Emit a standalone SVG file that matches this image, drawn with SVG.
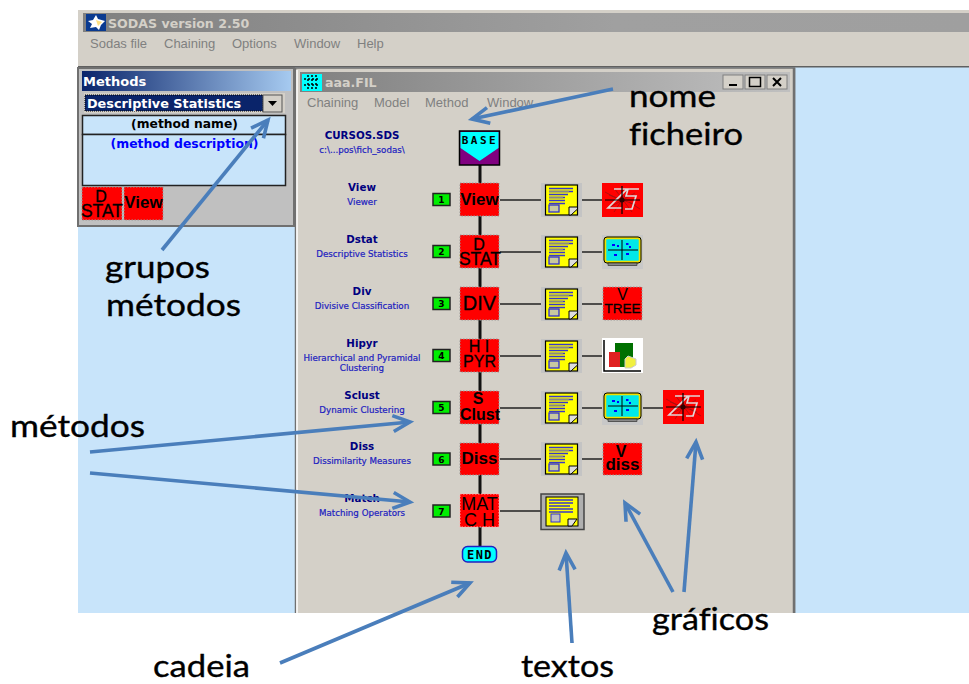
<svg xmlns="http://www.w3.org/2000/svg" xmlns:xlink="http://www.w3.org/1999/xlink" width="969" height="684" viewBox="0 0 969 684">
<style>
text{font-family:"Liberation Sans",Arial,sans-serif}
.menu{font-size:13px;fill:#808080}
.ttl{font-family:"DejaVu Sans",sans-serif;font-weight:bold;font-size:12.6px;fill:#d4d0c8}
.mn{font-family:"DejaVu Sans",sans-serif;font-weight:bold;font-size:10.3px;fill:#000080;text-anchor:middle}
.md{font-family:"DejaVu Sans",sans-serif;font-size:8.7px;fill:#2020c0;text-anchor:middle;stroke:#2020c0;stroke-width:.2}
.num{font-family:"DejaVu Sans",sans-serif;font-weight:bold;font-size:9px;fill:#000;text-anchor:middle}
.nb{fill:#00ee00;stroke:#222;stroke-width:1.5}
.red{fill:#ff0000;stroke:#999;stroke-width:1;stroke-dasharray:1.5 1.5}
.rt{font-size:16px;fill:#000;text-anchor:middle;stroke:#000;stroke-width:.3}
.rb{font-size:16px;font-weight:bold;fill:#000;text-anchor:middle}
.big{font-family:Lato,"Liberation Sans",sans-serif;font-size:31px;fill:#000;stroke:#000;stroke-width:.35;font-variant-ligatures:none}
.bl{stroke:#222;stroke-width:1.5;fill:none}
.vl{stroke:#111;stroke-width:3;fill:none}
.arr{stroke:#4a7ebb;stroke-width:3.6;fill:none;marker-end:url(#ah)}
.btn{fill:#d4d0c8;stroke:#808080;stroke-width:1}
</style>
<defs>
<linearGradient id="gm" x1="0" x2="1" y1="0" y2="0"><stop offset="0" stop-color="#808080"/><stop offset=".6" stop-color="#a0a0a0"/><stop offset="1" stop-color="#9f9f9f"/></linearGradient>
<linearGradient id="gc" x1="0" x2="1" y1="0" y2="0"><stop offset="0" stop-color="#808080"/><stop offset="1" stop-color="#c0c0c0"/></linearGradient>
<linearGradient id="gb" x1="0" x2="1" y1="0" y2="0"><stop offset="0" stop-color="#0a246a"/><stop offset="1" stop-color="#a6caf0"/></linearGradient>
<marker id="ah" markerUnits="userSpaceOnUse" markerWidth="30" markerHeight="30" refX="22" refY="15" orient="auto" overflow="visible">
<path d="M5,7 L22,15 L5,23" fill="none" stroke="#4a7ebb" stroke-width="3.6"/>
</marker>
<g id="doc">
<rect x="0" y="0" width="41" height="34" fill="#c4c4c4"/>
<rect x="4.500" y="2" width="32" height="30" fill="#ffff00" stroke="#000" stroke-width="1.200"/>
<path d="M8,5.500H32M8,8.500H32M8,11.500H27M8,14.500H24M8,17.500H24M8,20.500H24" stroke="#3838c8" stroke-width="1.300"/>
<path d="M8,8.500H28M8,14.500H22" stroke="#888" stroke-width="1.300"/>
<rect x="8" y="22" width="10" height="7" fill="#c8c8a0" stroke="#3030d0" stroke-width="1.300"/>
<path d="M28,32V24H36.500V26L30,32Z" fill="#ddd" stroke="#000"/>
</g>
<g id="zs">
<rect x="0" y="0" width="41" height="34" fill="#ff0000"/>
<path d="M7,12L34,22M8,24L33,10M12,5L30,29M28,5L12,29M3,9L14,15M27,19L38,26" stroke="#a01010" stroke-width=".8"/>
<path d="M12,6H25L6,25H20M37,6H26L24,13H34L30,26H23" fill="none" stroke="#e0d8d8" stroke-width="1.700"/>
<path d="M3,17H38M20,3V31" stroke="#000" stroke-width="1.200"/>
<circle cx="20" cy="17" r="2.500" fill="#300"/>
</g>
<g id="mon">
<rect x="0" y="0" width="41" height="34" fill="#c8c8c8"/>
<rect x="3" y="3" width="35" height="24" rx="2" fill="#00e8e8" stroke="#f0e000" stroke-width="2.500"/>
<rect x="2" y="2" width="37" height="26" rx="3" fill="none" stroke="#000" stroke-width="1"/>
<path d="M6,15H36M20,5V25" stroke="#000" stroke-width="1"/>
<path d="M10,10h3M24,9h2.500M15,11h2M12,20h3M24,19h3M27,12h2" stroke="#0000ff" stroke-width="2"/>
<rect x="6" y="28" width="29" height="2.500" fill="#888" stroke="#000" stroke-width=".5"/>
</g>
</defs>

<rect width="969" height="684" fill="#fff"/>
<g id="app">
<rect x="78" y="10" width="891" height="57" fill="#d4d0c8"/>
<rect x="83" y="13" width="886" height="19" fill="url(#gm)"/>
<rect x="86" y="14" width="20" height="17" fill="#0a3a90"/>
<path d="M96,15L98,19L105,21L101,25L99,30L96,27L90,28L92,24L88,21L93,20Z" fill="#fff"/>
<path d="M96,20L102,22L98,26Z" fill="#ffe080"/>
<text class="ttl" x="108" y="28">SODAS version 2.50</text>
<text class="menu" x="90" y="48">Sodas file</text><text class="menu" x="164" y="48">Chaining</text><text class="menu" x="232" y="48">Options</text><text class="menu" x="294" y="48">Window</text><text class="menu" x="357" y="48">Help</text>
<rect x="78" y="66" width="891" height="547" fill="#c8e4fa"/>
<rect x="78" y="66" width="891" height="1.500" fill="#606060"/>
</g>

<g id="methods-panel">
<rect x="78" y="68" width="216" height="158" fill="#c0c0c0" stroke="#707070" stroke-width="2"/>
<rect x="82" y="71" width="209" height="20" fill="url(#gb)"/>
<text x="83" y="86" style="font-family:'DejaVu Sans',sans-serif;font-weight:bold;font-size:13px;fill:#fff">Methods</text>
<rect x="84" y="93" width="201" height="20" fill="#d4d0c8"/>
<rect x="85" y="95" width="178" height="16" fill="#0a246a" stroke="#000" stroke-dasharray="1 1"/>
<text x="87" y="108" style="font-family:'DejaVu Sans',sans-serif;font-weight:bold;font-size:12.800px;fill:#fff">Descriptive Statistics</text>
<rect x="263" y="95" width="19" height="17" fill="#d4d0c8" stroke="#555"/>
<path d="M268,101H277L272.500,106Z" fill="#000"/>
<rect x="82.500" y="115.500" width="203" height="19" fill="#c8e4fa" stroke="#222" stroke-width="1.500"/>
<text x="184.500" y="128" text-anchor="middle" style="font-family:'DejaVu Sans',sans-serif;font-weight:bold;font-size:12.300px;fill:#000">(method name)</text>
<rect x="82.500" y="134.500" width="203" height="51" fill="#c8e4fa" stroke="#222" stroke-width="1.500"/>
<text x="184.500" y="148" text-anchor="middle" style="font-family:'DejaVu Sans',sans-serif;font-weight:bold;font-size:12.400px;fill:#0000ff">(method description)</text>
<rect class="red" x="82" y="187" width="40" height="33"/>
<text class="rb" x="101" y="202" style="font-weight:normal;stroke:#000;stroke-width:.3">D</text><text class="rb" x="102" y="217" style="font-weight:normal;stroke:#000;stroke-width:.3;font-size:17.500px">STAT</text>
<rect class="red" x="124" y="187" width="39" height="33"/>
<text class="rb" x="143.500" y="208" style="font-size:17px">View</text>
</g>

<g id="chain-window">
<rect x="295.500" y="68" width="499" height="545" fill="#d4d0c8"/>
<path d="M295.500,613V68H794.500V613" fill="none" stroke="#707070" stroke-width="1.500"/>
<path d="M297,613V70" stroke="#fff" stroke-width="1.500"/>
<path d="M794,68V613" stroke="#707070" stroke-width="2.500"/>
<rect x="300" y="72" width="490" height="20" fill="url(#gc)"/>
<rect x="302" y="74" width="20" height="17" fill="#00ffff"/>
<path d="M304,79H320M304,85H320M312,75V90M308,75V90M316,75V90" stroke="#000" stroke-dasharray="2 2" stroke-width="1.500"/>
<text class="ttl" x="325" y="87">aaa.FIL</text>
<rect class="btn" x="723" y="75" width="20" height="14"/><path d="M729,85H737" stroke="#000" stroke-width="2"/>
<rect class="btn" x="745" y="75" width="20" height="14"/><rect x="749.500" y="77.500" width="11" height="9" fill="none" stroke="#000" stroke-width="1.500"/>
<rect class="btn" x="767" y="75" width="20" height="14"/><path d="M773,78L781,86M781,78L773,86" stroke="#000" stroke-width="2"/>
<text class="menu" x="307" y="107">Chaining</text><text class="menu" x="374" y="107">Model</text><text class="menu" x="425" y="107">Method</text><text class="menu" x="487" y="107">Window</text>
</g>

<g id="connectors">
<path class="vl" d="M480,165V546"/>
<path class="bl" d="M500,200H541M582,200H602M500,252H541M582,252H602M500,304H541M582,304H602M500,356H541M582,356H602M500,408H541M582,408H602M643,408H663M500,459H541M582,459H602M500,511H541"/>
</g>

<g id="base"><rect x="459.500" y="131" width="40" height="34" fill="#800080" stroke="#000" stroke-width="1.500"/><path d="M460.500,132H498.500V148L479.500,161L460.500,148Z" fill="#00ffff"/><text x="480" y="144" text-anchor="middle" style="font-family:'DejaVu Sans Mono',monospace;font-weight:bold;font-size:11px;letter-spacing:2.500px">BASE</text>
<text class="mn" x="362" y="139">CURSOS.SDS</text><text class="md" x="362" y="153">c:\...pos\fich_sodas\</text></g>

<g id="view"><text class="mn" x="362" y="191">View</text><text class="md" x="362" y="205">Viewer</text><rect class="nb" x="433" y="193.500" width="17" height="12"/><text class="num" x="441.500" y="203">1</text><rect class="red" x="460" y="183" width="39" height="33"/><text class="rb" x="479.500" y="205" style="font-size:17px">View</text><use xlink:href="#doc" href="#doc" x="541" y="183"/><use xlink:href="#zs" href="#zs" x="602" y="183"/></g>

<g id="dstat"><text class="mn" x="362" y="243">Dstat</text><text class="md" x="362" y="257">Descriptive Statistics</text><rect class="nb" x="433" y="245.500" width="17" height="12"/><text class="num" x="441.500" y="255">2</text><rect class="red" x="460" y="235" width="39" height="33"/><text class="rt" x="479" y="250">D</text><text class="rt" x="480" y="265" style="font-size:17.500px">STAT</text><use xlink:href="#doc" href="#doc" x="541" y="235"/><use xlink:href="#mon" href="#mon" x="602" y="235"/></g>

<g id="div"><text class="mn" x="362" y="295">Div</text><text class="md" x="362" y="309">Divisive Classification</text><rect class="nb" x="433" y="297.500" width="17" height="12"/><text class="num" x="441.500" y="307">3</text><rect class="red" x="460" y="287" width="39" height="33"/><text class="rt" x="479.500" y="310" style="font-size:20px">DIV</text><use xlink:href="#doc" href="#doc" x="541" y="287"/><rect class="red" x="603" y="287" width="39" height="33"/><text class="rt" x="622.500" y="300" style="font-size:16px;stroke-width:0">V</text><text class="rt" x="622.500" y="313" style="font-size:13.500px">TREE</text></g>

<g id="hipyr"><text class="mn" x="362" y="347">Hipyr</text><text class="md" x="362" y="361">Hierarchical and Pyramidal</text><text class="md" x="362" y="371">Clustering</text><rect class="nb" x="433" y="349.500" width="17" height="12"/><text class="num" x="441.500" y="359">4</text><rect class="red" x="460" y="339" width="39" height="33"/><text class="rt" x="479" y="352">H I</text><text class="rt" x="479.500" y="367">PYR</text><use xlink:href="#doc" href="#doc" x="541" y="339"/>
<rect x="602" y="338" width="41" height="35" fill="#fff"/><path d="M604,340V371H641" fill="none" stroke="#000" stroke-width="1.500"/><rect x="615" y="343" width="18" height="24" fill="#007000"/><rect x="609" y="352" width="11" height="15" fill="#e02020"/><path d="M628,356L636,359V365L631,368H625V359Z" fill="#f0f040" stroke="#ccc"/></g>

<g id="sclust"><text class="mn" x="362" y="399">Sclust</text><text class="md" x="362" y="413">Dynamic Clustering</text><rect class="nb" x="433" y="401.500" width="17" height="12"/><text class="num" x="441.500" y="411">5</text><rect class="red" x="460" y="391" width="39" height="33"/><text class="rb" x="478" y="404">S</text><text class="rb" x="480" y="420">Clust</text><use xlink:href="#doc" href="#doc" x="541" y="391"/><use xlink:href="#mon" href="#mon" x="602" y="391"/><use xlink:href="#zs" href="#zs" x="663" y="390"/></g>

<g id="diss"><text class="mn" x="362" y="450">Diss</text><text class="md" x="362" y="464">Dissimilarity Measures</text><rect class="nb" x="433" y="453" width="17" height="12"/><text class="num" x="441.500" y="462.500">6</text><rect class="red" x="460" y="443" width="39" height="32"/><text class="rb" x="479.500" y="464" style="font-size:17px">Diss</text><use xlink:href="#doc" href="#doc" x="541" y="442"/><rect class="red" x="603" y="443" width="39" height="32"/><text class="rb" x="621" y="457">V</text><text class="rb" x="622.500" y="470" style="font-size:17px">diss</text></g>

<g id="match"><text class="mn" x="362" y="502">Match</text><text class="md" x="362" y="516">Matching Operators</text><rect class="nb" x="433" y="505" width="17" height="12"/><text class="num" x="441.500" y="514.500">7</text><rect x="460" y="494" width="39" height="33" fill="#ff0000" stroke="#ffb0b0" stroke-dasharray="1.500 1.500"/><text class="rt" x="479.500" y="510" style="stroke-width:0;font-size:18px">MAT</text><text class="rt" x="479.500" y="525.500" style="stroke-width:0;font-size:18px">C H</text>
<rect x="541" y="494" width="43" height="35.500" fill="#b0b0b0" stroke="#444" stroke-width="1.500"/><rect x="546" y="497" width="32" height="29" fill="#ffff00" stroke="#000"/><path d="M549,500H573M549,503H573M549,506H570M549,509H573M549,512H573" stroke="#3838c8" stroke-width="1.300"/><rect x="551" y="514" width="9" height="8" fill="#c0c0c0" stroke="#3030d0"/><path d="M568,526V519H577L572,526Z" fill="#ddd" stroke="#000"/></g>

<g id="end"><rect x="462.500" y="546.500" width="34" height="15.500" rx="5" fill="#00ffff" stroke="#2020c0" stroke-width="1.500"/><text x="480" y="558.500" text-anchor="middle" style="font-family:'DejaVu Sans Mono',monospace;font-weight:bold;font-size:12px;letter-spacing:1.500px">END</text></g>

<g id="annotations">
<path class="arr" d="M162,250L268,120"/>
<path class="arr" d="M613,89L472,119"/>
<path class="arr" d="M90,452L410,422"/>
<path class="arr" d="M90,473L410,502"/>
<path class="arr" d="M280,663L470,583"/>
<path class="arr" d="M572,643L566,553"/>
<path class="arr" d="M673,592L625,503"/>
<path class="arr" d="M684,592L696,442"/>
<text class="big" x="629" y="107" textLength="87" lengthAdjust="spacingAndGlyphs">nome</text>
<text class="big" x="629" y="145" textLength="114" lengthAdjust="spacingAndGlyphs">ficheiro</text>
<text class="big" x="105" y="278" textLength="105" lengthAdjust="spacingAndGlyphs">grupos</text>
<text class="big" x="106" y="316" textLength="135" lengthAdjust="spacingAndGlyphs">métodos</text>
<text class="big" x="10" y="437" textLength="135" lengthAdjust="spacingAndGlyphs">métodos</text>
<text class="big" x="153" y="677" textLength="97" lengthAdjust="spacingAndGlyphs">cadeia</text>
<text class="big" x="521" y="677" textLength="93" lengthAdjust="spacingAndGlyphs">textos</text>
<text class="big" x="652" y="630" textLength="117" lengthAdjust="spacingAndGlyphs">gráficos</text>
</g>
</svg>
